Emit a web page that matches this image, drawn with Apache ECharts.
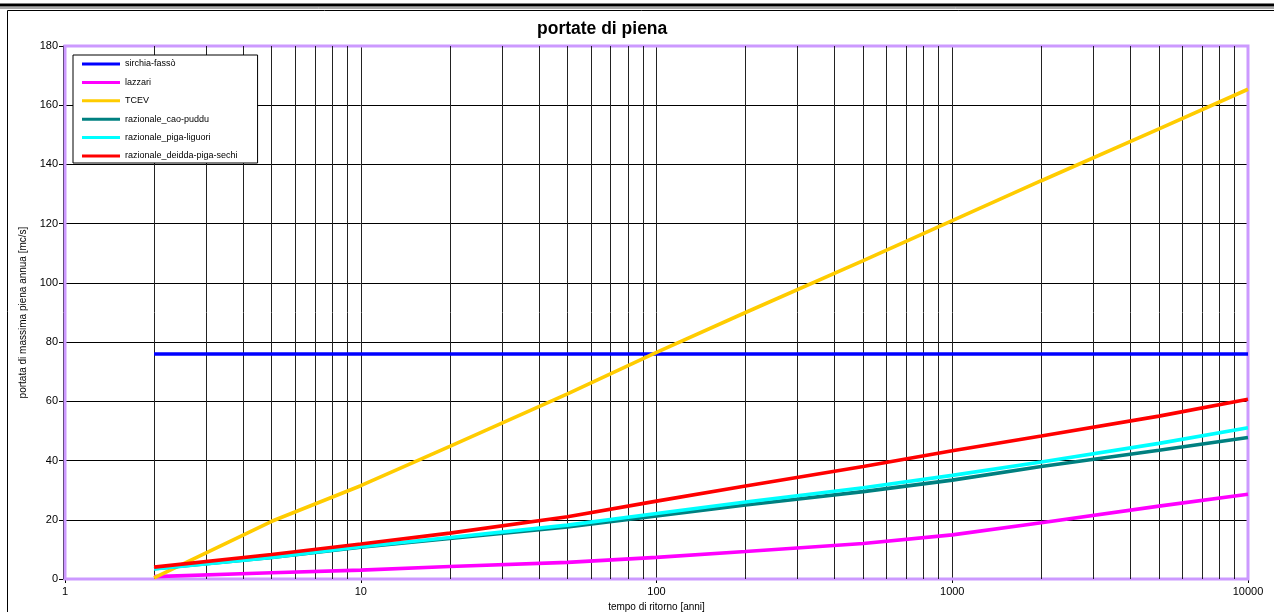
<!DOCTYPE html>
<html>
<head>
<meta charset="utf-8">
<script src="https://cdn.jsdelivr.net/npm/echarts@6/dist/echarts.min.js"></script>
<style>
  html, body { margin: 0; padding: 0; background: #fff; }
  #chart { width: 1274px; height: 612px; }
</style>
</head>
<body>
<div id="chart"></div>
<script>
// Tempi di ritorno [anni]
const tempiRitorno = [2, 5, 10, 20, 50, 100, 200, 500, 1000, 2000, 5000, 10000];

// Portate di piena [mc/s] per metodo
const sirchiaFasso      = [76, 76, 76, 76, 76, 76, 76, 76, 76, 76, 76, 76];
const lazzari           = [0.8, 2.1, 3.0, 4.2, 5.6, 7.3, 9.3, 12.0, 14.9, 19.0, 24.6, 28.6];
const tcev              = [0.4, 19.5, 31.5, 44.8, 62.5, 76.5, 90.0, 107.5, 121.0, 134.5, 152.0, 165.4];
const caoPuddu          = [3.5, 7.3, 10.7, 13.7, 17.6, 21.3, 25.0, 29.5, 33.4, 38.0, 43.5, 47.8];
const pigaLiguori       = [3.4, 7.3, 10.9, 14.0, 18.2, 22.1, 26.0, 30.8, 35.0, 39.5, 45.8, 51.1];
const deiddaPigaSechi   = [4.0, 8.3, 11.8, 15.5, 21.0, 26.3, 31.4, 38.0, 43.3, 48.3, 55.0, 60.7];

const nomiSerie = ['sirchia-fassò', 'lazzari', 'TCEV', 'razionale_cao-puddu', 'razionale_piga-liguori', 'razionale_deidda-piga-sechi'];
const valoriSerie = [sirchiaFasso, lazzari, tcev, caoPuddu, pigaLiguori, deiddaPigaSechi];
const coloriSerie = ['#0000FF', '#FF00FF', '#FFCC00', '#008080', '#00FFFF', '#FF0000'];

// Assi
const yTicks = [0, 20, 40, 60, 80, 100, 120, 140, 160, 180];
const decadi = [1, 10, 100, 1000];
const moltiplicatori = [2, 3, 4, 5, 6, 7, 8, 9];

// Linee verticali intermedie della griglia logaritmica
const lineeGriglia = [];
decadi.forEach(d => moltiplicatori.forEach(m => lineeGriglia.push({ xAxis: d * m })));

const font = '"Liberation Sans", Arial, sans-serif';

// Area del diagramma (px)
const area = { left: 65, right: 26, top: 46, bottom: 33 };
const W = 1274, H = 612;

const series = nomiSerie.map((nome, i) => ({
  name: nome,
  type: 'line',
  data: tempiRitorno.map((t, j) => [t, valoriSerie[i][j]]),
  showSymbol: false,
  symbol: 'none',
  lineStyle: { color: coloriSerie[i], width: 3.6 },
  itemStyle: { color: coloriSerie[i] },
  z: 5 + i,
  animation: false
}));

series.unshift({
  name: 'griglia',
  type: 'line',
  data: [],
  z: 2,
  silent: true,
  markLine: {
    silent: true,
    symbol: ['none', 'none'],
    label: { show: false },
    lineStyle: { color: '#222', width: 1, type: 'solid' },
    emphasis: { disabled: true },
    animation: false,
    data: lineeGriglia
  }
});

const chart = echarts.init(document.getElementById('chart'), null, { renderer: 'canvas' });
chart.setOption({
  backgroundColor: '#ffffff',
  animation: false,
  title: {
    text: 'portate di piena',
    left: 537,
    top: 20,
    padding: 0,
    textStyle: { fontFamily: font, fontSize: 17.5, fontWeight: 'bold', color: '#000' }
  },
  legend: {
    data: nomiSerie,
    orient: 'vertical',
    left: 73,
    top: 55,
    padding: [3, 20, 1, 9],
    backgroundColor: '#fff',
    borderColor: '#000',
    borderWidth: 1,
    borderRadius: 0,
    icon: 'rect',
    itemWidth: 38,
    itemHeight: 3,
    itemGap: 6.4,
    textStyle: { fontFamily: font, fontSize: 9, color: '#000', lineHeight: 12 },
    z: 20
  },
  grid: {
    left: area.left,
    right: area.right,
    top: area.top,
    bottom: area.bottom,
    show: true,
    backgroundColor: '#fff',
    borderWidth: 0,
    containLabel: false,
    outerBoundsMode: 'none'
  },
  xAxis: {
    type: 'log',
    logBase: 10,
    min: 1,
    max: 10000,
    name: 'tempo di ritorno [anni]',
    nameLocation: 'middle',
    nameGap: 14,
    nameTextStyle: { fontFamily: font, fontSize: 10, color: '#000' },
    offset: 2,
    axisLine: { show: true, lineStyle: { color: '#000', width: 1 } },
    axisTick: { show: true, inside: false, length: 4, lineStyle: { color: '#000' } },
    axisLabel: { fontFamily: font, fontSize: 11, color: '#000', margin: 5, formatter: v => String(v) },
    splitLine: { show: true, lineStyle: { color: '#222', width: 1 } },
    minorTick: { show: false },
    minorSplitLine: { show: false }
  },
  yAxis: {
    type: 'value',
    min: 0,
    max: 180,
    interval: 20,
    name: 'portata di massima piena annua [mc/s]',
    nameLocation: 'middle',
    nameGap: 29,
    nameTextStyle: { fontFamily: font, fontSize: 10, color: '#000' },
    offset: 2,
    axisLine: { show: true, lineStyle: { color: '#000', width: 1 } },
    axisTick: { show: true, inside: false, length: 4, lineStyle: { color: '#000' } },
    axisLabel: {
      fontFamily: font, fontSize: 11, color: '#000', margin: 5,
      formatter: v => (yTicks.includes(v) ? String(v) : '')
    },
    splitLine: { show: true, lineStyle: { color: '#000', width: 1 } }
  },
  graphic: [
    // filetto superiore della pagina
    { type: 'rect', silent: true, z: 100, shape: { x: 0, y: 3.5, width: W, height: 3 }, style: { fill: '#000' } },
    { type: 'line', silent: true, z: 100, shape: { x1: 0, y1: 8, x2: W, y2: 8 }, style: { stroke: '#555', lineWidth: 1 } },
    // cornice del grafico
    { type: 'rect', silent: true, z: 100, shape: { x: 7.5, y: 10.5, width: 1300, height: 620 }, style: { fill: 'none', stroke: '#000', lineWidth: 1 } },
    // bordo lilla dell'area del diagramma
    { type: 'rect', silent: true, z: 3,
      shape: { x: area.left, y: area.top, width: W - area.left - area.right, height: H - area.top - area.bottom },
      style: { fill: 'none', stroke: '#CC99FF', lineWidth: 3 } }
  ],
  series: series
});
</script>
</body>
</html>
